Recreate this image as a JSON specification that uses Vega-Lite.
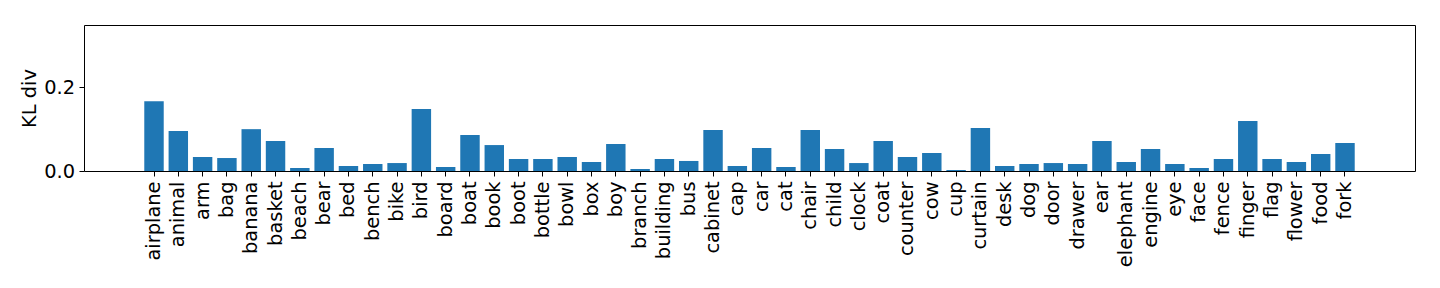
{
  "$schema": "https://vega.github.io/schema/vega-lite/v6.json",
  "width": 1331,
  "height": 146,
  "autosize": {"type": "none"},
  "padding": {"left": 84, "top": 25, "right": 25, "bottom": 117},
  "background": "white",
  "config": {
    "view": {"stroke": "#000000", "strokeWidth": 1},
    "font": "DejaVu Sans",
    "axis": {
      "labelFont": "DejaVu Sans",
      "titleFont": "DejaVu Sans",
      "labelFontSize": 19.4,
      "titleFontSize": 19.4,
      "titleFontWeight": "normal",
      "labelColor": "#000000",
      "titleColor": "#000000",
      "tickColor": "#000000",
      "tickSize": 5,
      "tickWidth": 1,
      "domain": false,
      "grid": false
    }
  },
  "data": {
    "values": [
      {"category": "airplane", "kl": 0.167},
      {"category": "animal", "kl": 0.0956},
      {"category": "arm", "kl": 0.0335},
      {"category": "bag", "kl": 0.031},
      {"category": "banana", "kl": 0.100},
      {"category": "basket", "kl": 0.0717},
      {"category": "beach", "kl": 0.0072},
      {"category": "bear", "kl": 0.055},
      {"category": "bed", "kl": 0.012},
      {"category": "bench", "kl": 0.0167},
      {"category": "bike", "kl": 0.019},
      {"category": "bird", "kl": 0.148},
      {"category": "board", "kl": 0.0096},
      {"category": "boat", "kl": 0.086},
      {"category": "book", "kl": 0.062},
      {"category": "boot", "kl": 0.0287},
      {"category": "bottle", "kl": 0.0287},
      {"category": "bowl", "kl": 0.0335},
      {"category": "box", "kl": 0.0215},
      {"category": "boy", "kl": 0.0645},
      {"category": "branch", "kl": 0.0048},
      {"category": "building", "kl": 0.0287},
      {"category": "bus", "kl": 0.024},
      {"category": "cabinet", "kl": 0.098},
      {"category": "cap", "kl": 0.012},
      {"category": "car", "kl": 0.055},
      {"category": "cat", "kl": 0.0096},
      {"category": "chair", "kl": 0.098},
      {"category": "child", "kl": 0.0526},
      {"category": "clock", "kl": 0.019},
      {"category": "coat", "kl": 0.0717},
      {"category": "counter", "kl": 0.0335},
      {"category": "cow", "kl": 0.043},
      {"category": "cup", "kl": 0.0024},
      {"category": "curtain", "kl": 0.103},
      {"category": "desk", "kl": 0.012},
      {"category": "dog", "kl": 0.0167},
      {"category": "door", "kl": 0.019},
      {"category": "drawer", "kl": 0.0167},
      {"category": "ear", "kl": 0.0717},
      {"category": "elephant", "kl": 0.0215},
      {"category": "engine", "kl": 0.0526},
      {"category": "eye", "kl": 0.0167},
      {"category": "face", "kl": 0.0072},
      {"category": "fence", "kl": 0.0287},
      {"category": "finger", "kl": 0.1195},
      {"category": "flag", "kl": 0.0287},
      {"category": "flower", "kl": 0.0215},
      {"category": "food", "kl": 0.0406},
      {"category": "fork", "kl": 0.0669}
    ]
  },
  "mark": {"type": "bar", "color": "#1f77b4"},
  "encoding": {
    "x": {
      "field": "category",
      "type": "nominal",
      "sort": null,
      "scale": {"paddingInner": 0.2, "paddingOuter": 0.1, "range": [57.85, 1273.15]},
      "axis": {
        "title": null,
        "labelAngle": -90,
        "labelAlign": "right",
        "labelBaseline": "middle",
        "labelPadding": 5,
        "labelOverlap": false
      }
    },
    "y": {
      "field": "kl",
      "type": "quantitative",
      "scale": {"domain": [0, 0.349], "nice": false, "zero": true},
      "axis": {
        "title": "KL div",
        "values": [0, 0.2],
        "format": ".1f",
        "labelPadding": 4.5,
        "titlePadding": 4
      }
    }
  }
}
